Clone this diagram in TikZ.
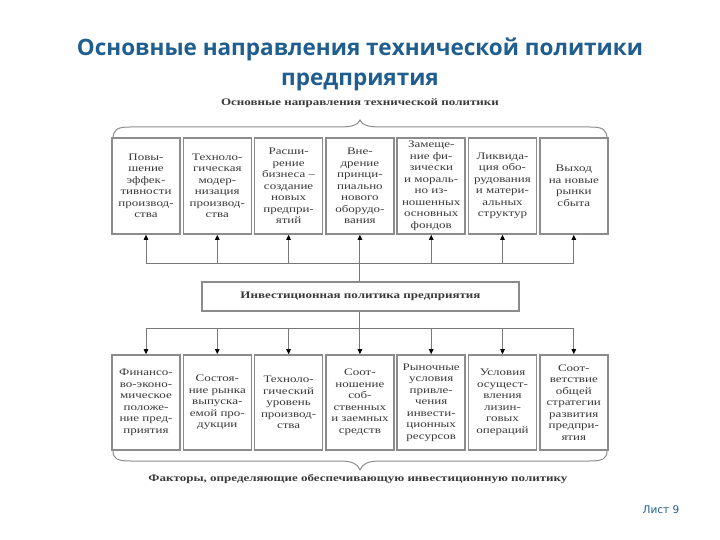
\documentclass[tikz,border=0pt]{standalone}
\usepackage{fontspec}
\setmainfont{Liberation Serif}
\newfontfamily\boxfont[FakeStretch=1.3]{Liberation Serif}
\newfontfamily\titlefont{Open Sans}
\newfontfamily\pagefont{DejaVu Sans}
\usetikzlibrary{arrows.meta}
\definecolor{titleblue}{HTML}{1F5E8E}
\definecolor{boxgray}{HTML}{8C8C8C}
\definecolor{txtgray}{HTML}{3A3A3A}
\definecolor{linegray}{HTML}{777777}
\tikzset{
  cell/.style={draw=boxgray, line width=1.6pt, minimum width=68pt, inner sep=0pt,
    align=center, font=\boxfont\fontsize{10}{11.5}\selectfont, text=txtgray},
  topcell/.style={cell, minimum height=96pt},
  botcell/.style={cell, minimum height=95pt},
  midbox/.style={draw=boxgray, line width=1.2pt, minimum width=317pt, minimum height=29pt,
    font=\boxfont\bfseries\fontsize{10}{12}\selectfont, text=txtgray},
  lbl/.style={font=\boxfont\bfseries\fontsize{10}{12}\selectfont, text=txtgray},
  conn/.style={draw=linegray, line width=0.9pt},
  arr/.style={conn, -{Triangle[width=4.5pt,length=5pt,color=black]}},
  bracel/.style={draw=boxgray, line width=1pt},
}
\begin{document}
\begin{tikzpicture}[x=1pt,y=-1pt]
\useasboundingbox (0,0) rectangle (720,540);
\fill[white] (0,0) rectangle (720,540);

\node[font=\titlefont\bfseries\fontsize{22.5}{30}\selectfont, text=titleblue, align=center]
  (title) at (360,64) {Основные направления технической политики\\предприятия};

\node[lbl] (toplbl) at (360,103) {Основные направления технической политики};
\node[lbl] (botlbl) at (358,479) {Факторы, определяющие обеспечивающую инвестиционную политику};

% braces
\draw[bracel] (113,139) .. controls (113,129) and (118,127) .. (130,127) -- (340,127)
  .. controls (352,127) and (358,125) .. (360,120)
  .. controls (362,125) and (368,127) .. (380,127) -- (590,127)
  .. controls (602,127) and (607,129) .. (607,139);
\draw[bracel] (113,451) .. controls (113,459) and (118,461) .. (130,461) -- (340,461)
  .. controls (352,461) and (358,464) .. (360,470)
  .. controls (362,464) and (368,461) .. (380,461) -- (590,461)
  .. controls (602,461) and (607,459) .. (607,451);

% top boxes
\node[topcell] (t1) at (146.0,186) {Повы-\\шение\\эффек-\\тивности\\производ-\\ства};
\node[topcell] (t2) at (217.3,186) {Техноло-\\гическая\\модер-\\низация\\производ-\\ства};
\node[topcell] (t3) at (288.6,186) {Расши-\\рение\\бизнеса –\\создание\\новых\\предпри-\\ятий};
\node[topcell] (t4) at (359.9,186) {Вне-\\дрение\\принци-\\пиально\\нового\\оборудо-\\вания};
\node[topcell] (t5) at (431.2,186) {Замеще-\\ние фи-\\зически\\и мораль-\\но из-\\ношенных\\основных\\фондов};
\node[topcell] (t6) at (502.5,186) {Ликвида-\\ция обо-\\рудования\\и матери-\\альных\\структур};
\node[topcell] (t7) at (573.8,186) {Выход\\на новые\\рынки\\сбыта};

% bottom boxes
\node[botcell] (b1) at (146.0,402.5) {Финансо-\\во-эконо-\\мическое\\положе-\\ние пред-\\приятия};
\node[botcell] (b2) at (217.3,402.5) {Состоя-\\ние рынка\\выпуска-\\емой про-\\дукции};
\node[botcell] (b3) at (288.6,402.5) {Техноло-\\гический\\уровень\\производ-\\ства};
\node[botcell] (b4) at (359.9,402.5) {Соот-\\ношение\\соб-\\ственных\\и заемных\\средств};
\node[botcell] (b5) at (431.2,402.5) {Рыночные\\условия\\привле-\\чения\\инвести-\\ционных\\ресурсов};
\node[botcell] (b6) at (502.5,402.5) {Условия\\осущест-\\вления\\лизин-\\говых\\операций};
\node[botcell] (b7) at (573.8,402.5) {Соот-\\ветствие\\общей\\стратегии\\развития\\предпри-\\ятия};

% middle box
\node[midbox] (mid) at (360.5,296.5) {Инвестиционная политика предприятия};

% connectors
\foreach \i in {1,...,7} {
  \coordinate (ht\i) at (t\i.south |- 0,263);
  \coordinate (hb\i) at (b\i.north |- 0,328);
  \draw[arr] (ht\i) -- (t\i.south);
  \draw[arr] (hb\i) -- (b\i.north);
}
\draw[conn] (ht1) -- (ht7);
\draw[conn] (hb1) -- (hb7);
\draw[conn] (mid.north -| ht4) -- (ht4);
\draw[conn] (mid.south -| hb4) -- (hb4);

\node[font=\pagefont\fontsize{10.5}{12}\selectfont, text=titleblue] (page) at (661,510) {Лист 9};
\end{tikzpicture}
\end{document}
